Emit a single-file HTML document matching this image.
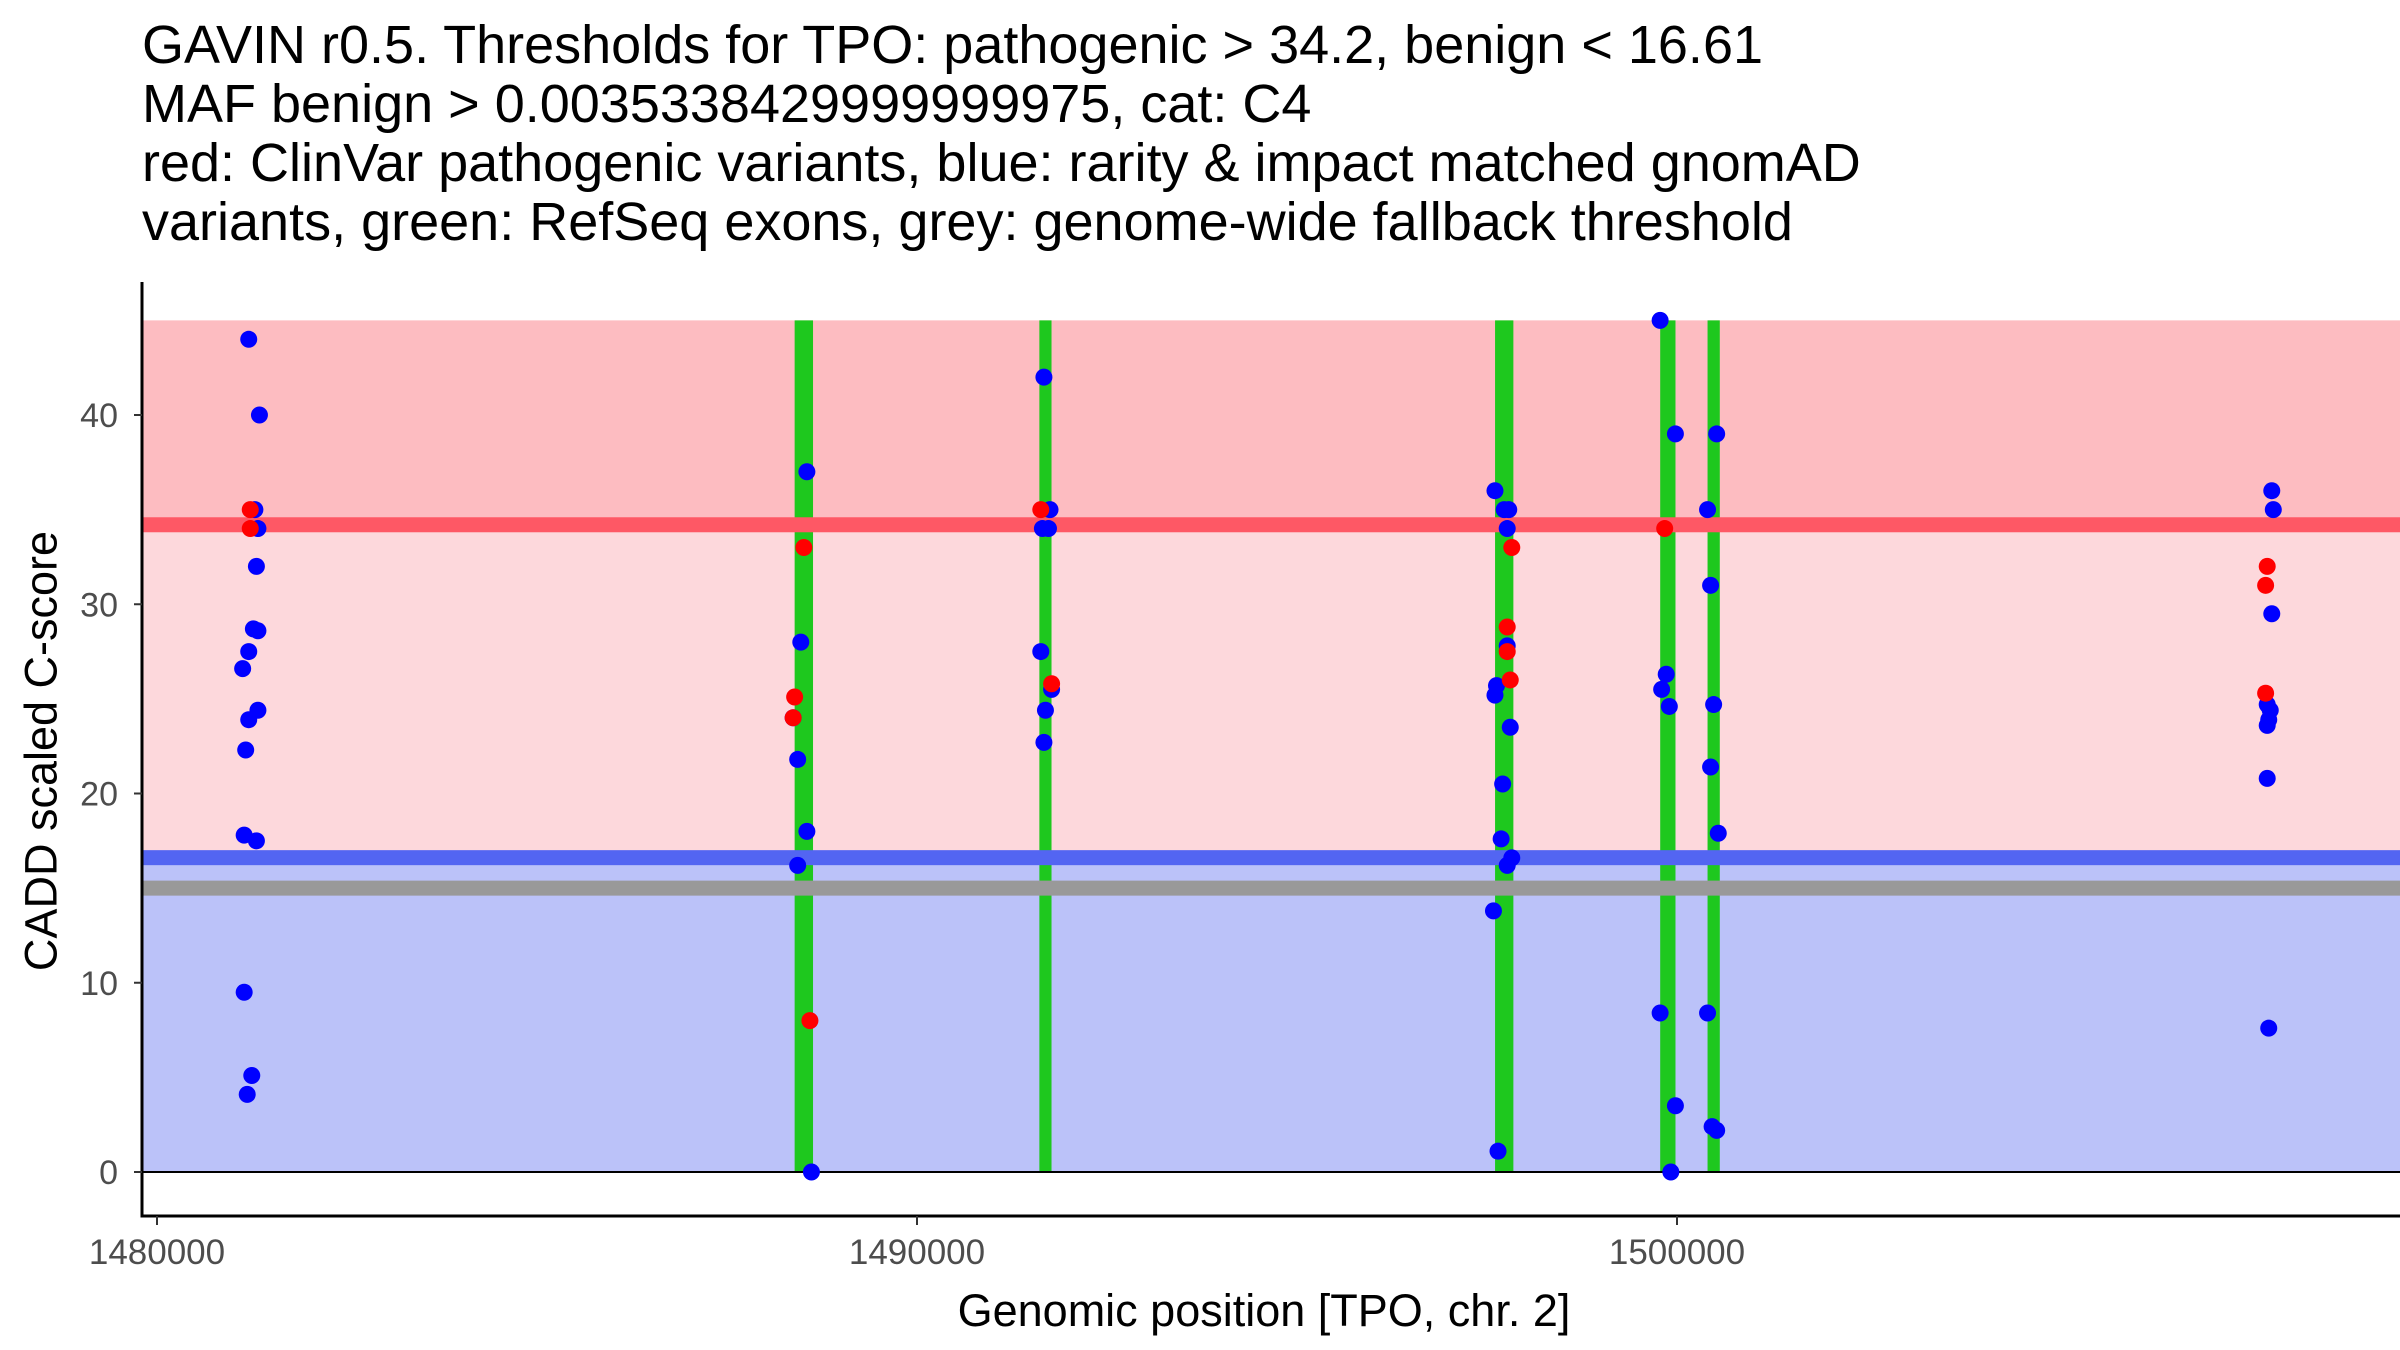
<!DOCTYPE html>
<html><head><meta charset="utf-8"><style>
html,body{margin:0;padding:0;background:#fff}
svg{display:block;font-family:"Liberation Sans",Arial,sans-serif}
</style></head><body>
<svg id="chart" width="2400" height="1350" viewBox="0 0 2400 1350" xmlns="http://www.w3.org/2000/svg">
<g font-size="54" fill="#000">
<text x="142" y="63">GAVIN r0.5. Thresholds for TPO: pathogenic &gt; 34.2, benign &lt; 16.61</text>
<text x="142" y="122">MAF benign &gt; 0.0035338429999999975, cat: C4</text>
<text x="142" y="181">red: ClinVar pathogenic variants, blue: rarity &amp; impact matched gnomAD</text>
<text x="142" y="240">variants, green: RefSeq exons, grey: genome-wide fallback threshold</text>
</g>
<g id="bands"></g>
<g id="exons"></g>
<g id="lines"></g>
<g id="points"></g>
<g id="axes"></g>
<text x="41" y="751" font-size="45" text-anchor="middle" dominant-baseline="central" transform="rotate(-90 41 751)">CADD scaled C-score</text>
<text x="1264" y="1326" font-size="45" text-anchor="middle">Genomic position [TPO, chr. 2]</text>
</svg>
<script>
const pathogenicThreshold = 34.2;
const benignThreshold = 16.61;
const fallbackThreshold = 15;
const scoreMax = 45;
const yTicks = [0, 10, 20, 30, 40];
const xTicks = [1480000, 1490000, 1500000];
const exonStarts = [1488390, 1491610, 1497606, 1499779, 1500402];
const exonEnds = [1488632, 1491770, 1497847, 1499980, 1500563];
const bluePos = [1481207,1481348,1481288,1481328,1481308,1481268,1481328,1481207,1481127,1481328,1481207,1481167,1481147,1481308,1481147,1481247,1481187,
1488551,1488471,1488430,1488551,1488430,1488611,1488370,
1491670,1491750,1491650,1491730,1491629,1491690,1491771,1491670,
1497605,1497726,1497786,1497766,1497625,1497605,1497806,1497706,1497686,1497826,1497766,1497585,1497645,1497766,
1499778,1499979,1499858,1499798,1499899,1499778,1499979,1499919,
1500522,1500402,1500442,1500482,1500442,1500543,1500402,1500462,1500522,
1507826,1507846,1507826,1507766,1507806,1507786,1507766,1507766,1507786];
const blueScore = [44.0,40,35,34,32,28.7,28.6,27.5,26.6,24.4,23.9,22.3,17.8,17.5,9.5,5.1,4.1,
37,28,21.8,18,16.2,0,24,
42,35,34,34,27.5,24.4,25.5,22.7,
36,35,35,34,25.7,25.2,23.5,20.5,17.6,16.6,16.2,13.8,1.1,27.8,
45,39,26.3,25.5,24.6,8.4,3.5,0,
39,35,31,24.7,21.4,17.9,8.4,2.4,2.2,
36,35,29.5,24.7,24.4,23.9,23.6,20.8,7.6];
const redPos = [1481227,1481227,1488511,1488390,1488370,1488591,1491629,1491771,1497766,1497766,1497806,1497826,1499838,1507766,1507745,1507745];
const redScore = [35,34,33,25.1,24,8.0,35,25.8,28.8,27.5,26,33,34,32,31,25.3];

const NS='http://www.w3.org/2000/svg';
const X0=157, PX10K=760, Y0=1172, PXU=18.925, LEFT=142, RIGHT=2400, BOTTOM=1216;
const xs = v => X0 + (v-1480000)/10000*PX10K;
const ys = v => Y0 - v*PXU;
function mk(tag, attrs, parent){const e=document.createElementNS(NS,tag);for(const k in attrs)e.setAttribute(k,attrs[k]);parent.appendChild(e);return e;}
const bands=document.getElementById('bands');
let r=mk('rect',{x:LEFT,y:ys(scoreMax),width:RIGHT-LEFT,height:ys(pathogenicThreshold)-ys(scoreMax),fill:'#fdbcc1'},bands);


r=mk('rect',{x:LEFT,y:ys(pathogenicThreshold),width:RIGHT-LEFT,height:ys(benignThreshold)-ys(pathogenicThreshold),fill:'#fdd8dc'},bands);


r=mk('rect',{x:LEFT,y:ys(benignThreshold),width:RIGHT-LEFT,height:ys(0)-ys(benignThreshold),fill:'#bbc2f9'},bands);


const exons=document.getElementById('exons');
for(let i=0;i<exonStarts.length;i++){
  const e=mk('rect',{x:xs(exonStarts[i]),y:ys(scoreMax),width:xs(exonEnds[i])-xs(exonStarts[i]),height:ys(0)-ys(scoreMax),fill:'#1ec81e'},exons);
  
  
}
const lines=document.getElementById('lines');
let l=mk('rect',{x:LEFT,y:ys(pathogenicThreshold)-7.5,width:RIGHT-LEFT,height:15,fill:'#fe5865'},lines);


l=mk('rect',{x:LEFT,y:ys(benignThreshold)-7.5,width:RIGHT-LEFT,height:15,fill:'#5365f2'},lines);


l=mk('rect',{x:LEFT,y:ys(fallbackThreshold)-7.5,width:RIGHT-LEFT,height:15,fill:'#999999'},lines);


l=mk('line',{x1:LEFT,x2:RIGHT,y1:ys(0),y2:ys(0),stroke:'#000','stroke-width':2},lines);


const pts=document.getElementById('points');
for(let i=0;i<bluePos.length;i++){
  const c=mk('circle',{cx:xs(bluePos[i]),cy:ys(blueScore[i]),r:8.5,fill:'#0000ff'},pts);
  
  
}
for(let i=0;i<redPos.length;i++){
  const c=mk('circle',{cx:xs(redPos[i]),cy:ys(redScore[i]),r:8.5,fill:'#ff0000'},pts);
  
  
}
const axes=document.getElementById('axes');
let a=mk('line',{x1:LEFT,x2:LEFT,y1:282,y2:BOTTOM+1.5,stroke:'#000','stroke-width':3},axes);


a=mk('line',{x1:LEFT-1.5,x2:RIGHT,y1:BOTTOM,y2:BOTTOM,stroke:'#000','stroke-width':3},axes);


yTicks.forEach(v=>{
  const t=mk('line',{x1:LEFT-8,x2:LEFT,y1:ys(v),y2:ys(v),stroke:'#333','stroke-width':2},axes);
  
  
  const tx=mk('text',{x:LEFT-24,y:ys(v)+12,'font-size':34,'text-anchor':'end',fill:'#4d4d4d'},axes);
  tx.textContent=v;
  
  
});
xTicks.forEach(v=>{
  const t=mk('line',{x1:xs(v),x2:xs(v),y1:BOTTOM,y2:BOTTOM+9,stroke:'#333','stroke-width':2},axes);
  
  
  const tx=mk('text',{x:xs(v),y:1264,'font-size':35,'text-anchor':'middle',fill:'#4d4d4d'},axes);
  tx.textContent=v;
  
  
});
</script>
</body></html>
